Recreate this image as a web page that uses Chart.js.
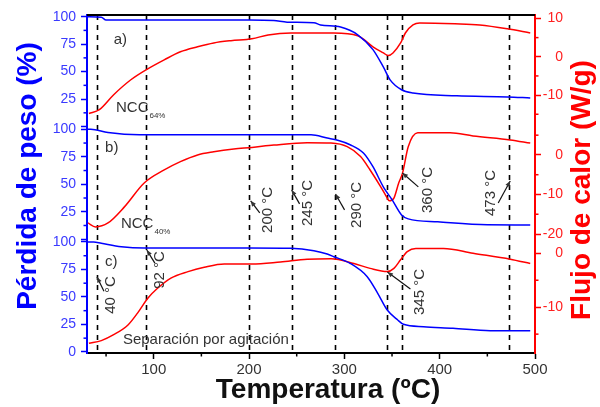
<!DOCTYPE html>
<html>
<head>
<meta charset="utf-8">
<script src="https://cdn.jsdelivr.net/npm/chart.js@4.4.0/dist/chart.umd.min.js"></script>
<style>
  html, body { margin: 0; padding: 0; background: #fff; }
</style>
</head>
<body>
<canvas id="chart" width="600" height="407"></canvas>
<script>
// tick values
var xTicks = [100, 200, 300, 400, 500];
var xMinorTicks = [50, 150, 250, 350, 450];
var massTicks = [0, 25, 50, 75, 100];
var massMinorTicks = [12.5, 37.5, 62.5, 87.5];
var heatTicksA = [-10, 0, 10];
var heatTicksB = [-20, -10, 0];
var heatTicksC = [-10, 0];
var heatMinorA = [-15, -5, 5];
var heatMinorB = [-15, -5, 5];
var heatMinorC = [-15, -5];

// dashed marker temperatures (ºC)
var markTemps = [40, 92, 200, 245, 290, 345, 360, 473];

// a) NCC 64% - weight loss (%)
var tgaTempA = [30, 45, 50, 100, 150, 200, 226, 240, 268, 275, 296, 314, 330, 341, 348, 360, 372, 418, 471, 495];
var tgaA = [100, 99.5, 97, 97, 97, 97, 96.5, 95, 94.5, 92.5, 90.5, 83.5, 70, 54, 42.5, 33.5, 30.5, 28, 27, 26];
// a) heat flow (W/g)
var dscTempA = [32, 43, 58, 76, 92, 111, 128, 146, 163, 181, 203, 220, 244, 289, 314, 330, 341, 346, 351, 359, 364, 372, 379, 416, 442, 471, 495];
var dscA = [-14.8, -13.8, -9.9, -6.0, -3.4, -0.8, 1.3, 2.6, 3.6, 4.2, 4.7, 5.7, 6.2, 6.2, 5.5, 2.6, 1.0, 0.3, 1.0, 3.6, 6.2, 8.3, 8.8, 8.6, 8.3, 7.3, 6.2];

// b) NCC 40%
var tgaTempB = [30, 34, 52, 85, 150, 200, 265, 282, 293, 306, 320, 330, 341, 350, 360, 367, 398, 450, 495];
var tgaB = [100, 100, 97, 95, 95, 95, 95, 92, 90, 86, 78.5, 66, 47.5, 36, 22, 18.5, 15.8, 13.1, 13];
var dscTempB = [31, 39, 52, 69, 90, 111, 128, 146, 163, 184, 203, 226, 261, 286, 303, 317, 327, 338, 345, 347, 352, 357, 361, 367, 377, 411, 435, 474, 495];
var dscB = [-17.2, -18.2, -17.2, -13.2, -7.1, -3.8, -1.7, 0, 0.8, 1.5, 1.9, 2.5, 3.1, 3.0, 2.1, -0.4, -3.8, -8.0, -10.9, -11.6, -10.9, -7.1, -4.6, 2.1, 5.6, 5.6, 4.8, 3.8, 3.0];

// c) separación por agitación
var tgaTempC = [30, 37, 45, 66, 90, 150, 200, 244, 268, 282, 289, 306, 324, 335, 345, 356, 362, 383, 414, 453, 495];
var tgaC = [100, 100, 98.8, 95.7, 94.5, 94.5, 94.5, 94.2, 92, 89, 86.6, 80.6, 68.4, 53.3, 38.1, 29, 25.1, 22.9, 21.5, 19.3, 19.3];
var dscTempC = [32, 45, 58, 73, 83, 94, 104, 118, 136, 153, 174, 203, 233, 261, 286, 310, 327, 345, 352, 359, 366, 375, 404, 435, 474, 495];
var dscC = [-16.7, -16.2, -15.1, -13.3, -11.1, -8.3, -6.5, -4.6, -3.4, -2.6, -2.0, -2.0, -1.6, -1.1, -1.0, -1.9, -2.8, -3.4, -2.8, -1.2, 0.3, 0.9, 0.9, 0, -1.1, -1.9];

var BLUE = '#0000ff';
var RED = '#ff0000';
var FONT = "'Liberation Sans', Arial, sans-serif";

// rotated temperature labels with their little arrows (data coords)
var notes = [
  {text: '40 °C',  axis: 'yc', at: [55.1, 51.8],  tail: [47.8, 55.2],  head: [40.5, 68.1]},
  {text: '92 °C',  axis: 'yc', at: [106.4, 74.5], tail: [101.2, 80.8], head: [92.8, 92.6]},
  {text: '200 °C', axis: 'yb', at: [219.5, 26.7], tail: [211.2, 24.0], head: [201.7, 34.9]},
  {text: '245 °C', axis: 'yb', at: [261.4, 33.0], tail: [253, 32.2],   head: [244.7, 44.9]},
  {text: '290 °C', axis: 'yb', at: [312.7, 31.2], tail: [300.2, 26.7], head: [290.7, 41.2]},
  {text: '360 °C', axis: 'yb', at: [387.1, 44.8], tail: [377.6, 47.6], head: [360.9, 60.3]},
  {text: '473 °C', axis: 'yb', at: [454.1, 42.1], tail: [461.4, 33.0], head: [474, 53]},
  {text: '345 °C', axis: 'yc', at: [378.7, 54.5], tail: [369.3, 57.2], head: [345.2, 72.7]}
];

function pts(ts, vs) {
  return ts.map(function (t, i) { return {x: t, y: vs[i]}; });
}

function line(data, color, axis) {
  return {
    data: data, yAxisID: axis, borderColor: color, borderWidth: 1.5,
    pointRadius: 0, fill: false, cubicInterpolationMode: 'monotone'
  };
}

function massAxis(weight, panel) {
  return {
    type: 'linear', position: 'left', stack: 'left', stackWeight: 1, weight: weight,
    min: -1, max: 101.5,
    afterBuildTicks: function (s) { s.ticks = massTicks.map(function (v) { return {value: v}; }); },
    afterFit: function (s) { s.width = 87; },
    border: {color: BLUE, width: 2},
    grid: {drawOnChartArea: false, color: BLUE, tickLength: 6, tickWidth: 1.5},
    ticks: {
      color: '#3a3aff', font: {family: FONT, size: 14}, padding: 5, autoSkip: false,
      callback: function (v) { return (v === 0 && panel !== 'c') ? '' : String(v); }
    }
  };
}

function heatAxis(weight, lo, hi, vals) {
  return {
    type: 'linear', position: 'right', stack: 'right', stackWeight: 1, weight: weight,
    min: lo, max: hi,
    afterBuildTicks: function (s) { s.ticks = vals.map(function (v) { return {value: v}; }); },
    afterFit: function (s) { s.width = 28; },
    border: {color: RED, width: 2},
    grid: {drawOnChartArea: false, color: RED, tickLength: 6, tickWidth: 1.5},
    ticks: {color: '#ff2020', font: {family: FONT, size: 14}, padding: 2, autoSkip: false, crossAlign: 'far'}
  };
}

function arrow(ctx, x1, y1, x2, y2) {
  var a = Math.atan2(y2 - y1, x2 - x1);
  ctx.beginPath();
  ctx.moveTo(x1, y1);
  ctx.lineTo(x2, y2);
  ctx.stroke();
  ctx.beginPath();
  ctx.moveTo(x2, y2);
  ctx.lineTo(x2 - 6 * Math.cos(a - 0.4), y2 - 6 * Math.sin(a - 0.4));
  ctx.lineTo(x2 - 6 * Math.cos(a + 0.4), y2 - 6 * Math.sin(a + 0.4));
  ctx.closePath();
  ctx.fill();
}

var extras = {
  id: 'extras',
  beforeDatasetsDraw: function (chart) {
    var ctx = chart.ctx, area = chart.chartArea, x = chart.scales.x;
    ctx.save();
    ctx.strokeStyle = '#000';
    ctx.lineWidth = 1.6;
    ctx.setLineDash([5, 5]);
    markTemps.forEach(function (t) {
      var p = Math.round(x.getPixelForValue(t)) + 0.5;
      ctx.beginPath();
      ctx.moveTo(p, area.top);
      ctx.lineTo(p, area.bottom);
      ctx.stroke();
    });
    ctx.restore();
  },
  afterDraw: function (chart) {
    var ctx = chart.ctx, area = chart.chartArea, s = chart.scales;
    ctx.save();

    // top frame line
    ctx.strokeStyle = '#000';
    ctx.lineWidth = 2;
    ctx.beginPath();
    ctx.moveTo(area.left, area.top);
    ctx.lineTo(area.right, area.top);
    ctx.stroke();

    // minor ticks
    ctx.lineWidth = 1.5;
    ctx.strokeStyle = '#000';
    xMinorTicks.forEach(function (v) {
      var p = s.x.getPixelForValue(v);
      ctx.beginPath(); ctx.moveTo(p, area.bottom); ctx.lineTo(p, area.bottom + 3.5); ctx.stroke();
    });
    ctx.strokeStyle = BLUE;
    ['ya', 'yb', 'yc'].forEach(function (id) {
      massMinorTicks.forEach(function (v) {
        var p = s[id].getPixelForValue(v);
        ctx.beginPath(); ctx.moveTo(area.left - 3.5, p); ctx.lineTo(area.left, p); ctx.stroke();
      });
    });
    ctx.strokeStyle = RED;
    [['ra', heatMinorA], ['rb', heatMinorB], ['rc', heatMinorC]].forEach(function (m) {
      m[1].forEach(function (v) {
        var p = s[m[0]].getPixelForValue(v);
        ctx.beginPath(); ctx.moveTo(area.right, p); ctx.lineTo(area.right + 3.5, p); ctx.stroke();
      });
    });

    // rotated temperature notes
    ctx.fillStyle = '#333';
    ctx.strokeStyle = '#111';
    ctx.lineWidth = 1.2;
    notes.forEach(function (n) {
      var y = s[n.axis];
      arrow(ctx, s.x.getPixelForValue(n.tail[0]), y.getPixelForValue(n.tail[1]),
        s.x.getPixelForValue(n.head[0]), y.getPixelForValue(n.head[1]));
      ctx.save();
      ctx.translate(s.x.getPixelForValue(n.at[0]), y.getPixelForValue(n.at[1]));
      ctx.rotate(-Math.PI / 2);
      ctx.font = '15px ' + FONT;
      ctx.textAlign = 'center';
      ctx.textBaseline = 'middle';
      ctx.fillText(n.text, 0, 0);
      ctx.restore();
    });

    // panel labels
    ctx.font = '15px ' + FONT;
    ctx.textAlign = 'left';
    ctx.textBaseline = 'middle';
    ctx.fillStyle = '#333';
    ctx.fillText('a)', s.x.getPixelForValue(58), s.ya.getPixelForValue(78.8));
    ctx.fillText('b)', s.x.getPixelForValue(49), s.yb.getPixelForValue(83));
    ctx.fillText('c)', s.x.getPixelForValue(49), s.yc.getPixelForValue(81.8));

    function ncc(sub, t, axis, v) {
      var px = s.x.getPixelForValue(t), py = s[axis].getPixelForValue(v);
      ctx.font = '15px ' + FONT;
      ctx.fillText('NCC', px, py);
      var w = ctx.measureText('NCC').width;
      ctx.font = '8px ' + FONT;
      ctx.fillText(sub, px + w + 1, py + 8);
    }
    ncc('64%', 60.4, 'ya', 17);
    ncc('40%', 65.6, 'yb', 14);

    ctx.font = '15px ' + FONT;
    ctx.fillText('Separación por agitación', s.x.getPixelForValue(67.7), s.yc.getPixelForValue(10.9));

    // axis titles
    ctx.font = 'bold 28px ' + FONT;
    ctx.textAlign = 'center';
    ctx.textBaseline = 'middle';
    ctx.fillStyle = BLUE;
    ctx.save();
    ctx.translate(28, 176);
    ctx.rotate(-Math.PI / 2);
    ctx.fillText('Pérdida de peso (%)', 0, 0);
    ctx.restore();
    ctx.fillStyle = RED;
    ctx.save();
    ctx.translate(582, 190);
    ctx.rotate(-Math.PI / 2);
    ctx.fillText('Flujo de calor (W/g)', 0, 0);
    ctx.restore();
    ctx.fillStyle = '#111';
    ctx.fillText('Temperatura (ºC)', 328, 390);

    ctx.restore();
  }
};

var ctx = document.getElementById('chart').getContext('2d');
var chart = new Chart(ctx, {
  type: 'line',
  data: {
    datasets: [
      line(pts(tgaTempA, tgaA), BLUE, 'ya'),
      line(pts(dscTempA, dscA), RED, 'ra'),
      line(pts(tgaTempB, tgaB), BLUE, 'yb'),
      line(pts(dscTempB, dscB), RED, 'rb'),
      line(pts(tgaTempC, tgaC), BLUE, 'yc'),
      line(pts(dscTempC, dscC), RED, 'rc')
    ]
  },
  options: {
    responsive: false,
    animation: false,
    layout: {padding: {top: 15, left: 0, right: 37, bottom: 0}},
    plugins: {legend: {display: false}, tooltip: {enabled: false}},
    scales: {
      x: {
        type: 'linear', position: 'bottom', min: 30, max: 500,
        afterBuildTicks: function (s) { s.ticks = xTicks.map(function (v) { return {value: v}; }); },
        afterFit: function (s) { s.height = 54; },
        border: {color: '#000', width: 2},
        grid: {drawOnChartArea: false, color: '#000', tickLength: 6, tickWidth: 1.5},
        ticks: {color: '#333', font: {family: FONT, size: 15}, padding: 2, autoSkip: false, maxRotation: 0}
      },
      ya: massAxis(3, 'a'),
      yb: massAxis(2, 'b'),
      yc: massAxis(1, 'c'),
      ra: heatAxis(1, -18.5, 10.9, heatTicksA),
      rb: heatAxis(2, -21.6, 6.9, heatTicksB),
      rc: heatAxis(3, -18.5, 2.4, heatTicksC)
    }
  },
  plugins: [extras]
});
</script>
</body>
</html>
